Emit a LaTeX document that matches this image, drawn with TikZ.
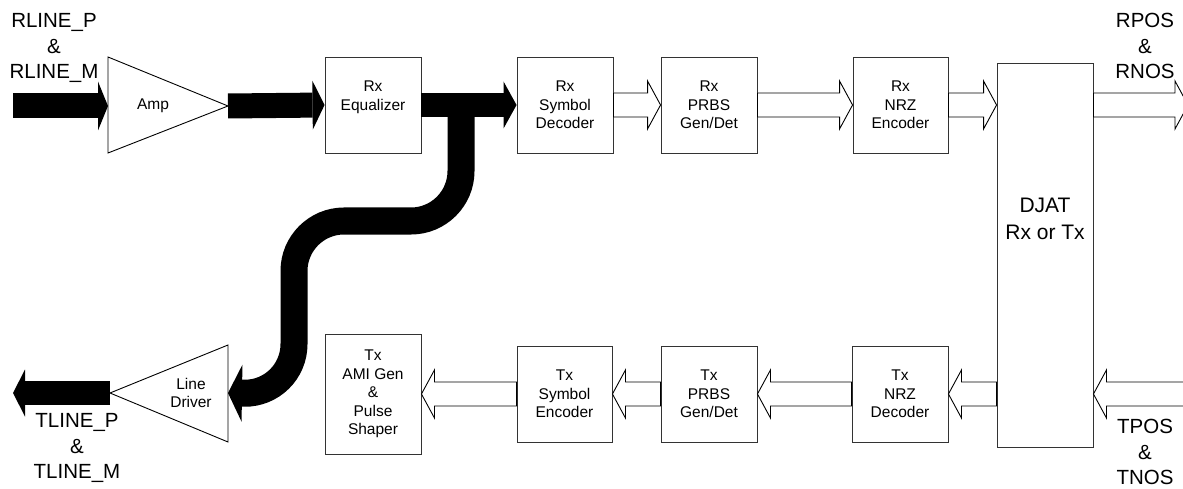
\documentclass[tikz,border=0pt]{standalone}
\usepackage{fontspec}
\setmainfont{Liberation Sans}
\usetikzlibrary{arrows.meta,calc}
\tikzset{
  box/.style={draw=black!80, line width=0.9pt, fill=white, minimum width=96pt, minimum height=96pt,
    inner sep=0pt, align=center, font=\fontsize{15.5}{18.5}\selectfont},
  boxtext/.style={inner sep=0pt, align=center, font=\fontsize{15.5}{18.5}\selectfont},
  bigtext/.style={inner sep=0pt, align=center, font=\fontsize{20.5}{25.5}\selectfont},
  tri/.style={draw=black, line width=0.9pt, line join=miter},
  blackarrow/.style={draw=black, line width=24pt,
    -{Triangle[width=48pt,length=12pt,line width=0pt]}},
  hollow/.style={draw=black, line width=0.9pt, fill=white, line join=miter}
}
\newcommand{\hollowarrow}[2]{%
  \draw[hollow] let \p1=#1, \p2=#2, \p3=($(\p2)!13pt!(\p1)$) in
    (\x1,{\y1+12pt}) -- (\x3,{\y1+12pt}) -- (\x3,{\y1+24pt})
    -- (\x2,\y1) -- (\x3,{\y1-24pt}) -- (\x3,{\y1-12pt})
    -- (\x1,{\y1-12pt}) -- cycle;}
\begin{document}
\begin{tikzpicture}[x=1pt,y=-1pt]
\useasboundingbox (0,0) rectangle (1183,489);

% labels
\node[bigtext] (rline) at (54,48) {RLINE\_P\\\&\\RLINE\_M};
\node[bigtext] (tline) at (77,448) {TLINE\_P\\\&\\TLINE\_M};
\node[bigtext] (rpos) at (1145,46) {RPOS\\\&\\RNOS};
\node[bigtext] (tpos) at (1145,452) {TPOS\\\&\\TNOS};

% amplifier
\coordinate (ampL) at (108,106);
\coordinate (ampR) at (228,106);
\draw[tri] (108,57) -- (ampR) -- (108,153) -- cycle;
\node[boxtext] (amptext) at (153,106) {Amp};

% line driver
\coordinate (ldL) at (110,393);
\coordinate (ldR) at (228,393);
\draw[tri] (228,345) -- (ldL) -- (228,442) -- cycle;
\node[boxtext] (ldtext) at (191,393) {Line\\Driver};

% boxes top row
\node[box] (eq) at (373,105) {Rx\\Equalizer\\~};
\node[box] (symdec) at (565,105) {Rx\\Symbol\\Decoder};
\node[box] (prbsrx) at (709,105) {Rx\\PRBS\\Gen/Det};
\node[box, minimum width=95pt] (nrzenc) at (900.5,105) {Rx\\NRZ\\Encoder};

% DJAT
\node[box, minimum height=384pt] (djat) at (1045,255) {};
\node[inner sep=0pt, align=center, font=\fontsize{21}{27}\selectfont] (djattext) at (1045,218.5) {DJAT\\Rx or Tx};

% boxes bottom row
\node[box, minimum height=120pt] (ami) at (373,394) {Tx\\AMI Gen\\\&\\Pulse\\Shaper};
\node[box, minimum width=95pt] (symenc) at (564.5,394) {Tx\\Symbol\\Encoder};
\node[box] (prbstx) at (709,394) {Tx\\PRBS\\Gen/Det};
\node[box] (nrzdec) at (900,394) {Tx\\NRZ\\Decoder};

% black arrows
\coordinate (rlin) at (13,106);
\coordinate (tlout) at (13,393);
\coordinate (branch) at (461,106);
\draw[blackarrow, line width=25pt, -{Triangle[width=49pt,length=10pt,line width=0pt]}] (rlin) -- (ampL);
\draw[blackarrow, line width=25pt, -{Triangle[width=49pt,length=12pt,line width=0pt]}] (ampR) -- (eq.west);
\draw[blackarrow, -{Triangle[width=47pt,length=13pt,line width=0pt]}] (eq.east) -- (symdec.west);
\draw[blackarrow, -{Triangle[width=47pt,length=12pt,line width=0pt]}] (ldL) -- (tlout);
\draw[blackarrow, line width=27pt, rounded corners=50pt,
  -{Triangle[width=57pt,length=14pt,line width=0pt]}]
  (branch) -- (461,221) -- (294,221) -- (294,394) -- (ldR);

% hollow arrows
\coordinate (rposout) at (1188,106);
\coordinate (tposin) at (1195,394);
\hollowarrow{(symdec.east)}{(prbsrx.west)}
\hollowarrow{(prbsrx.east)}{(nrzenc.west)}
\hollowarrow{(nrzenc.east)}{(djat.west |- nrzenc.east)}
\hollowarrow{(djat.east |- nrzenc.east)}{(rposout)}
\hollowarrow{(tposin)}{(djat.east |- nrzdec.east)}
\hollowarrow{(djat.west |- nrzdec.east)}{(nrzdec.east)}
\hollowarrow{(nrzdec.west)}{(prbstx.east)}
\hollowarrow{(prbstx.west)}{(symenc.east)}
\hollowarrow{(symenc.west)}{(ami.east)}
\end{tikzpicture}
\end{document}
